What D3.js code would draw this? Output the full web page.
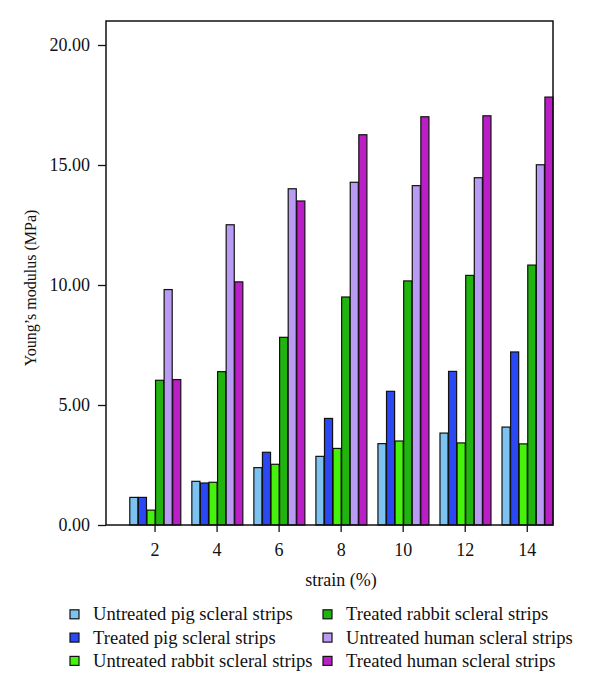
<!DOCTYPE html>
<html><head><meta charset="utf-8">
<script src="https://cdn.jsdelivr.net/npm/d3@7/dist/d3.min.js"></script>
<style>body{margin:0;background:#fff}svg{display:block}text{font-family:"Liberation Serif","Times New Roman",serif;fill:#111}</style>
</head><body><svg id="c" width="600" height="693"></svg>
<script>
const categories = ["2","4","6","8","10","12","14"];
const seriesNames = ["Untreated pig scleral strips","Treated pig scleral strips","Untreated rabbit scleral strips","Treated rabbit scleral strips","Untreated human scleral strips","Treated human scleral strips"];
const untreatedPig    = [1.15, 1.82, 2.39, 2.86, 3.39, 3.83, 4.08];
const treatedPig      = [1.15, 1.75, 3.03, 4.44, 5.57, 6.40, 7.21];
const untreatedRabbit = [0.62, 1.78, 2.53, 3.19, 3.50, 3.42, 3.38];
const treatedRabbit   = [6.03, 6.39, 7.82, 9.50, 10.17, 10.40, 10.83];
const untreatedHuman  = [9.81, 12.51, 14.01, 14.28, 14.14, 14.47, 15.01];
const treatedHuman    = [6.06, 10.13, 13.50, 16.26, 17.01, 17.05, 17.83];
const yTicks = [0, 5, 10, 15, 20];
const colors = ["#7dc3f2","#2a48f4","#44f20c","#20b40e","#b99bf4","#bb1dc6"];
const seriesValues = [untreatedPig, treatedPig, untreatedRabbit, treatedRabbit, untreatedHuman, treatedHuman];

const svg = d3.select("#c");
const frame = {l:106, t:21, r:553, b:525};
const y = d3.scaleLinear().domain([0,20]).range([525,45]);
const x = d3.scaleBand().domain(categories).range([129.3, 553]).paddingInner(0.17).paddingOuter(0);
const xs = d3.scaleBand().domain(d3.range(6)).range([0, x.bandwidth()]);

const groups = svg.append("g").selectAll("g").data(categories).join("g")
  .attr("transform", d => `translate(${x(d)},0)`);
groups.selectAll("rect").data((d,i) => seriesValues.map((s,k)=>({k, v:s[i]}))).join("rect")
  .attr("x", d => xs(d.k)+0.5).attr("width", xs.bandwidth()-0.5)
  .attr("y", d => y(d.v)).attr("height", d => y(0)-y(d.v))
  .attr("fill", d => colors[d.k]).attr("stroke","#111").attr("stroke-width",1.2);

// frame
svg.append("rect").attr("x",frame.l).attr("y",frame.t).attr("width",frame.r-frame.l).attr("height",frame.b-frame.t)
  .attr("fill","none").attr("stroke","#111").attr("stroke-width",1.5);

// y axis
const ya = svg.append("g").attr("transform",`translate(${frame.l},0)`)
  .call(d3.axisLeft(y).tickValues(yTicks).tickSize(8).tickPadding(8).tickFormat(d3.format(".2f")));
ya.select(".domain").remove();
ya.selectAll("line").attr("stroke","#111").attr("stroke-width",1.3);
ya.selectAll("text").attr("font-size",18).attr("fill","#111");

// x axis
const xa = svg.append("g").attr("transform",`translate(0,${frame.b})`)
  .call(d3.axisBottom(x).tickSize(7).tickPadding(11));
xa.select(".domain").remove();
xa.selectAll("line").attr("stroke","#111").attr("stroke-width",1.3);
xa.selectAll("text").attr("font-size",18).attr("fill","#111");

svg.append("text").attr("x",341).attr("y",586).attr("text-anchor","middle").attr("font-size",18).text("strain (%)");
svg.append("text").attr("transform","translate(36,288) rotate(-90)").attr("text-anchor","middle").attr("font-size",16).text("Young\u2019s modulus (MPa)");

// legend
const leg = svg.append("g");
seriesNames.forEach((n,i)=>{
  const col = Math.floor(i/3), row = i%3;
  const lx = col===0 ? 70 : 323, ly = 614.3 + row*23.3;
  leg.append("rect").attr("x",lx).attr("y",ly-4.5).attr("width",9).attr("height",9)
    .attr("fill",colors[i]).attr("stroke","#111").attr("stroke-width",1.2);
  leg.append("text").attr("x",lx+23).attr("y",ly+6).attr("font-size",18.6).text(n);
});
</script></body></html>
